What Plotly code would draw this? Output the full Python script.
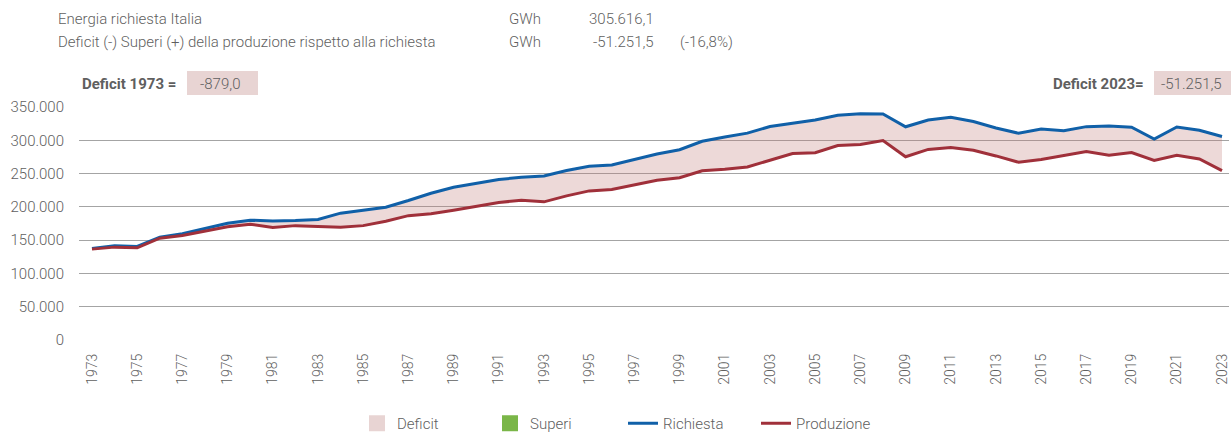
import plotly.graph_objects as go

years = list(range(1973, 2024))
richiesta = [
    137400, 141600, 140500, 154500, 159500, 167000, 175500, 180000, 178800, 179500,
    181000, 190500, 195000, 199500, 209500, 220500, 229500, 235500, 241000, 244500,
    246500, 254500, 261000, 263000, 271500, 279500, 285800, 298500, 304800, 310700,
    320700, 325400, 330400, 337500, 339900, 339500, 320300, 330500, 334600, 328200,
    318500, 310500, 316900, 314300, 320500, 321400, 319600, 301800, 319900, 315000,
    305616.1,
]
produzione = [
    136521, 139500, 138500, 153000, 157000, 163500, 170000, 174000, 169000, 171800,
    170200, 169500, 171800, 178500, 186800, 189500, 195000, 201000, 206500, 210000,
    207500, 216500, 224000, 226000, 233000, 240000, 243800, 254200, 256400, 260000,
    270000, 280000, 281300, 292000, 293800, 299500, 275300, 286300, 289000, 285000,
    276500, 267000, 271000, 277300, 283000, 277500, 281500, 269600, 277500, 272000,
    254364.6,
]
tick_years = list(range(1973, 2024, 2))
y_ticks = [0, 50000, 100000, 150000, 200000, 250000, 300000, 350000]

header_rows = [
    ("Energia richiesta Italia", "GWh", "305.616,1", ""),
    ("Deficit (-) Superi (+) della produzione rispetto alla richiesta", "GWh", "-51.251,5", "(-16,8%)"),
]
deficit_1973 = "-879,0"
deficit_2023 = "-51.251,5"

W, H = 1231, 433
L, R, T, B = 79, 2, 107, 93
PW, PH = W - L - R, H - T - B

def px(x):
    return (x - L) / PW

def py(y):
    return (H - B - y) / PH

FONT = "Roboto, Liberation Sans, Arial, sans-serif"
GREY = "#5f5f5f"
BLUE = "#1060a8"
RED = "#a0303a"
FILL = "rgba(190,120,115,0.28)"
BOX = "#e8d4d3"
GREEN = "#7ab648"

fig = go.Figure()
fig.add_trace(go.Scatter(x=years, y=richiesta, mode="lines", line=dict(width=0, color=BLUE),
                         showlegend=False, hoverinfo="skip"))
fig.add_trace(go.Scatter(x=years, y=produzione, mode="lines", line=dict(width=0, color=RED),
                         fill="tonexty", fillcolor=FILL, showlegend=False, hoverinfo="skip"))
fig.add_trace(go.Scatter(x=[None], y=[None], mode="markers", name="Deficit",
                         marker=dict(symbol="square", size=16, color=BOX)))
fig.add_trace(go.Scatter(x=[None], y=[None], mode="markers", name="Superi",
                         marker=dict(symbol="square", size=16, color=GREEN)))
fig.add_trace(go.Scatter(x=years, y=richiesta, mode="lines", name="Richiesta",
                         line=dict(color=BLUE, width=3)))
fig.add_trace(go.Scatter(x=years, y=produzione, mode="lines", name="Produzione",
                         line=dict(color=RED, width=3)))

ann = []
row_y = [19, 42]
for (label, unit, val, pct), yy in zip(header_rows, row_y):
    ann.append(dict(x=px(56), y=py(yy), text=label, xanchor="left"))
    ann.append(dict(x=px(507), y=py(yy), text=unit, xanchor="left"))
    ann.append(dict(x=px(656), y=py(yy), text=val, xanchor="right"))
    if pct:
        ann.append(dict(x=px(678), y=py(yy), text=pct, xanchor="left"))
ann.append(dict(x=px(80), y=py(84), text="<b>Deficit 1973 =</b>", xanchor="left"))
ann.append(dict(x=px(198), y=py(84), text=deficit_1973, xanchor="left"))
ann.append(dict(x=px(1146), y=py(84), text="<b>Deficit 2023=</b>", xanchor="right"))
ann.append(dict(x=px(1159), y=py(84), text=deficit_2023, xanchor="left"))
for a in ann:
    a.update(xref="paper", yref="paper", yanchor="middle", showarrow=False,
             font=dict(family=FONT, size=15, color=GREY))

shapes = [
    dict(type="rect", xref="paper", yref="paper", x0=px(187), x1=px(258), y0=py(95), y1=py(71),
         fillcolor=BOX, line=dict(width=0), layer="below"),
    dict(type="rect", xref="paper", yref="paper", x0=px(1154), x1=px(1231), y0=py(95), y1=py(71),
         fillcolor=BOX, line=dict(width=0), layer="below"),
]

fig.update_layout(
    width=W, height=H,
    margin=dict(l=L, r=R, t=T, b=B, pad=0, autoexpand=False),
    paper_bgcolor="white", plot_bgcolor="white",
    separators=",.",
    font=dict(family=FONT, size=15, color=GREY, weight=300),
    annotations=ann, shapes=shapes,
    showlegend=True,
    legend=dict(orientation="h", traceorder="normal", x=px(357), xanchor="left",
                y=py(423.5), yanchor="middle",
                entrywidth=88, entrywidthmode="pixels",
                font=dict(family=FONT, size=15, color=GREY), bgcolor="rgba(0,0,0,0)"),
    xaxis=dict(range=[1972.425, 2023.31], tickmode="array", tickvals=tick_years,
               ticktext=[str(v) for v in tick_years], tickangle=-90, showgrid=False,
               zeroline=False, showline=False, ticks="", ticklen=0, automargin=False,
               ticklabelstandoff=10,
               tickfont=dict(family=FONT, size=14, color=GREY)),
    yaxis=dict(range=[0, 350000], tickmode="array", tickvals=y_ticks, tickformat=",d",
               showgrid=True, gridcolor="#a4a4a4", gridwidth=1.4, zeroline=False, showline=False,
               ticks="", ticklen=0, automargin=False, ticklabelstandoff=14,
               tickfont=dict(family=FONT, size=15, color=GREY)),
)

fig.write_html("out.html", config={"displayModeBar": False},
               post_script="document.body.style.margin='0';document.body.style.overflow='hidden';")
